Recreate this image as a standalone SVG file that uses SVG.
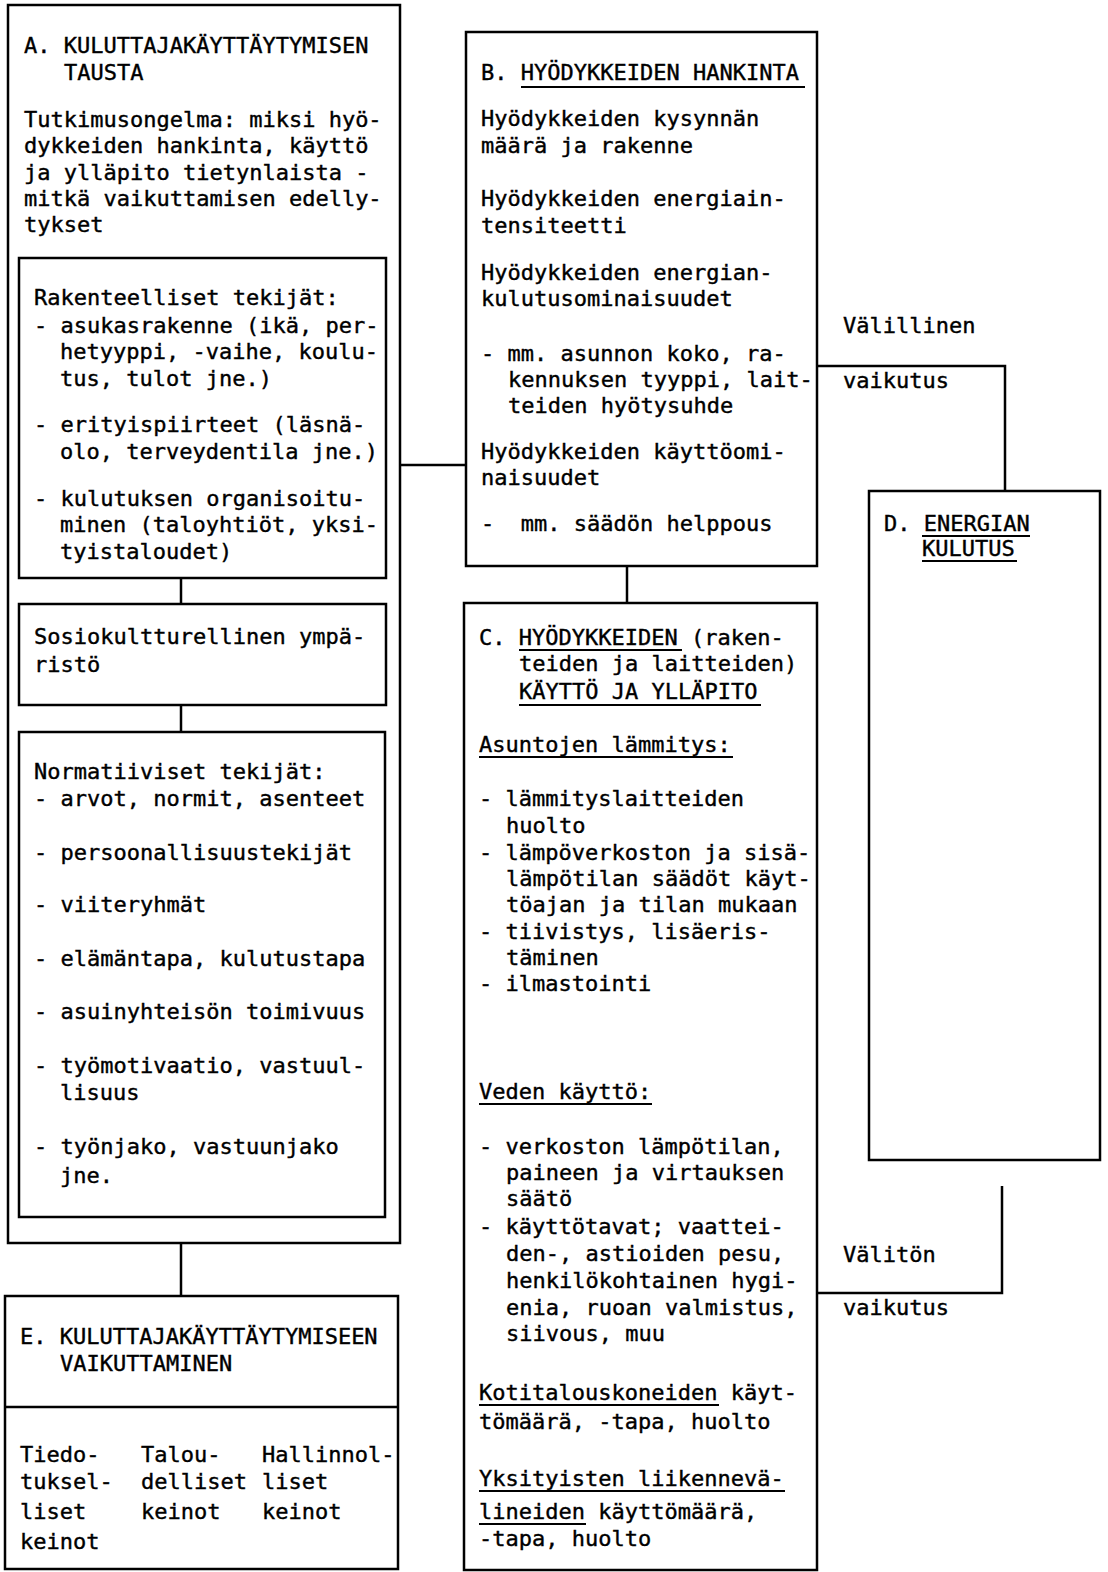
<svg xmlns="http://www.w3.org/2000/svg" width="1108" height="1572" viewBox="0 0 1108 1572">
<style>
.b{fill:none;stroke:#000;stroke-width:2.5}
.c{fill:none;stroke:#000;stroke-width:2.5}
.u{stroke:#000;stroke-width:2}
text{font-family:"DejaVu Sans Mono","Liberation Mono",monospace;font-size:22px;fill:#000;stroke:#000;stroke-width:0.4}
</style>
<rect width="1108" height="1572" fill="#fff"/>
<g id="connectors">
<line class="c" x1="181" y1="578" x2="181" y2="604"/>
<line class="c" x1="181" y1="705" x2="181" y2="732"/>
<line class="c" x1="181" y1="1243" x2="181" y2="1296"/>
<line class="c" x1="400" y1="465" x2="466" y2="465"/>
<line class="c" x1="627" y1="566" x2="627" y2="603"/>
<path class="c" d="M817 366 H1005 V491"/>
<path class="c" d="M817 1293 H1002 V1186"/>
<text x="843" y="333">Välillinen</text>
<text x="843" y="388">vaikutus</text>
<text x="843" y="1262">Välitön</text>
<text x="843" y="1315">vaikutus</text>
</g>
<g id="nodeA">
<rect class="b" x="8" y="5" width="392" height="1238"/>
<text x="24" y="53">A. KULUTTAJAKÄYTTÄYTYMISEN</text>
<text x="64" y="80">TAUSTA</text>
<text x="24" y="127">Tutkimusongelma: miksi hyö-</text>
<text x="24" y="153">dykkeiden hankinta, käyttö</text>
<text x="24" y="180">ja ylläpito tietynlaista -</text>
<text x="24" y="206">mitkä vaikuttamisen edelly-</text>
<text x="24" y="232">tykset</text>
</g>
<g id="nodeA1">
<rect class="b" x="19" y="258" width="367" height="320"/>
<text x="34" y="305">Rakenteelliset tekijät:</text>
<text x="34" y="333">- asukasrakenne (ikä, per-</text>
<text x="60" y="359">hetyyppi, -vaihe, koulu-</text>
<text x="60" y="386">tus, tulot jne.)</text>
<text x="34" y="432">- erityispiirteet (läsnä-</text>
<text x="60" y="459">olo, terveydentila jne.)</text>
<text x="34" y="506">- kulutuksen organisoitu-</text>
<text x="60" y="532">minen (taloyhtiöt, yksi-</text>
<text x="60" y="559">tyistaloudet)</text>
</g>
<g id="nodeA2">
<rect class="b" x="19" y="604" width="367" height="101"/>
<text x="34" y="644">Sosiokultturellinen ympä-</text>
<text x="34" y="672">ristö</text>
</g>
<g id="nodeA3">
<rect class="b" x="19" y="732" width="366" height="485"/>
<text x="34" y="779">Normatiiviset tekijät:</text>
<text x="34" y="806">- arvot, normit, asenteet</text>
<text x="34" y="860">- persoonallisuustekijät</text>
<text x="34" y="912">- viiteryhmät</text>
<text x="34" y="966">- elämäntapa, kulutustapa</text>
<text x="34" y="1019">- asuinyhteisön toimivuus</text>
<text x="34" y="1073">- työmotivaatio, vastuul-</text>
<text x="60" y="1100">lisuus</text>
<text x="34" y="1154">- työnjako, vastuunjako</text>
<text x="60" y="1183">jne.</text>
</g>
<g id="nodeE">
<rect class="b" x="5" y="1296" width="393" height="273"/>
<line class="b" x1="5" y1="1407" x2="398" y2="1407"/>
<text x="20" y="1344">E. KULUTTAJAKÄYTTÄYTYMISEEN</text>
<text x="60" y="1371">VAIKUTTAMINEN</text>
<text x="20" y="1462">Tiedo-</text>
<text x="20" y="1489">tuksel-</text>
<text x="20" y="1519">liset</text>
<text x="20" y="1549">keinot</text>
<text x="141" y="1462">Talou-</text>
<text x="141" y="1489">delliset</text>
<text x="141" y="1519">keinot</text>
<text x="262" y="1462">Hallinnol-</text>
<text x="262" y="1489">liset</text>
<text x="262" y="1519">keinot</text>
</g>
<g id="nodeB">
<rect class="b" x="466" y="32" width="351" height="534"/>
<text x="481" y="80">B. HYÖDYKKEIDEN HANKINTA</text>
<line class="u" x1="521" y1="87" x2="805" y2="87"/>
<text x="481" y="126">Hyödykkeiden kysynnän</text>
<text x="481" y="153">määrä ja rakenne</text>
<text x="481" y="206">Hyödykkeiden energiain-</text>
<text x="481" y="233">tensiteetti</text>
<text x="481" y="280">Hyödykkeiden energian-</text>
<text x="481" y="306">kulutusominaisuudet</text>
<text x="481" y="361">- mm. asunnon koko, ra-</text>
<text x="508" y="387">kennuksen tyyppi, lait-</text>
<text x="508" y="413">teiden hyötysuhde</text>
<text x="481" y="459">Hyödykkeiden käyttöomi-</text>
<text x="481" y="485">naisuudet</text>
<text x="481" y="531" xml:space="preserve">-  mm. säädön helppous</text>
</g>
<g id="nodeC">
<rect class="b" x="464" y="603" width="353" height="967"/>
<text x="479" y="645">C. HYÖDYKKEIDEN (raken-</text>
<line class="u" x1="519" y1="650" x2="682" y2="650"/>
<text x="519" y="671">teiden ja laitteiden)</text>
<text x="519" y="699">KÄYTTÖ JA YLLÄPITO</text>
<line class="u" x1="519" y1="705" x2="761" y2="705"/>
<text x="479" y="752">Asuntojen lämmitys:</text>
<line class="u" x1="479" y1="757" x2="733" y2="757"/>
<text x="479" y="806">- lämmityslaitteiden</text>
<text x="506" y="833">huolto</text>
<text x="479" y="860">- lämpöverkoston ja sisä-</text>
<text x="506" y="886">lämpötilan säädöt käyt-</text>
<text x="506" y="912">töajan ja tilan mukaan</text>
<text x="479" y="939">- tiivistys, lisäeris-</text>
<text x="506" y="965">täminen</text>
<text x="479" y="991">- ilmastointi</text>
<text x="479" y="1099">Veden käyttö:</text>
<line class="u" x1="479" y1="1104" x2="652" y2="1104"/>
<text x="479" y="1154">- verkoston lämpötilan,</text>
<text x="506" y="1180">paineen ja virtauksen</text>
<text x="506" y="1206">säätö</text>
<text x="479" y="1234">- käyttötavat; vaattei-</text>
<text x="506" y="1261">den-, astioiden pesu,</text>
<text x="506" y="1288">henkilökohtainen hygi-</text>
<text x="506" y="1315">enia, ruoan valmistus,</text>
<text x="506" y="1341">siivous, muu</text>
<text x="479" y="1400">Kotitalouskoneiden käyt-</text>
<line class="u" x1="479" y1="1405" x2="719" y2="1405"/>
<text x="479" y="1429">tömäärä, -tapa, huolto</text>
<text x="479" y="1486">Yksityisten liikennevä-</text>
<line class="u" x1="479" y1="1491" x2="785" y2="1491"/>
<text x="479" y="1519">lineiden käyttömäärä,</text>
<line class="u" x1="479" y1="1524" x2="586" y2="1524"/>
<text x="479" y="1546">-tapa, huolto</text>
</g>
<g id="nodeD">
<rect class="b" x="869" y="491" width="231" height="669"/>
<text x="884" y="531">D. ENERGIAN</text>
<line class="u" x1="922" y1="536" x2="1030" y2="536"/>
<text x="922" y="556">KULUTUS</text>
<line class="u" x1="922" y1="561" x2="1017" y2="561"/>
</g>
</svg>
